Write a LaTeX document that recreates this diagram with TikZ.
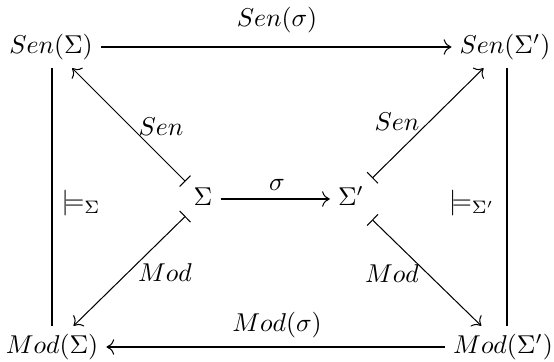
\documentclass[tikz,border=0pt]{standalone}
\usetikzlibrary{arrows.meta}
\begin{document}
\begin{tikzpicture}[x=0.388pt,y=-0.388pt,
  obj/.style={inner sep=3pt, text height=7.5pt, text depth=2.5pt},
  arr/.style={-{To[length=3pt,width=6pt]}, line width=0.4pt},
  maparr/.style={{Bar[width=6pt]}-{To[length=3pt,width=6pt]}, line width=0.4pt},
  lbl/.style={inner sep=1pt}]
\useasboundingbox (0,0) rectangle (554,362);
\node[obj] (sen) at (51,47) {$Sen(\Sigma)$};
\node[obj] (senp) at (505,47) {$Sen(\Sigma')$};
\node[obj] (mod) at (52,347) {$Mod(\Sigma)$};
\node[obj] (modp) at (503,347) {$Mod(\Sigma')$};
\node[obj] (s) at (203,199) {$\Sigma$};
\node[obj] (sp) at (351,199) {$\Sigma'$};
\draw[arr] (sen) -- (senp);
\draw[arr] (modp) -- (mod);
\draw[arr] (s) -- (sp);
\draw (sen.south -| 52,0) -- (mod.north -| 52,0);
\draw (senp.south -| 507,0) -- (modp.north -| 507,0);
\draw[maparr] (s) -- (sen);
\draw[maparr] (sp) -- (senp);
\draw[maparr] (s) -- (mod);
\draw[maparr] (sp) -- (modp);
\node[lbl] (l1) at (277,20) {$Sen(\sigma)$};
\node[lbl] (l2) at (277,325) {$Mod(\sigma)$};
\node[lbl] (l3) at (277,185) {$\sigma$};
\node[lbl] (l4) at (81,203) {$\models_{\Sigma}$};
\node[lbl] (l5) at (472,203) {$\models_{\Sigma'}$};
\node[lbl] (l6) at (161,127) {$Sen$};
\node[lbl] (l7) at (397,122) {$Sen$};
\node[lbl] (l8) at (165,273) {$Mod$};
\node[lbl] (l9) at (392,274) {$Mod$};
\end{tikzpicture}
\end{document}
